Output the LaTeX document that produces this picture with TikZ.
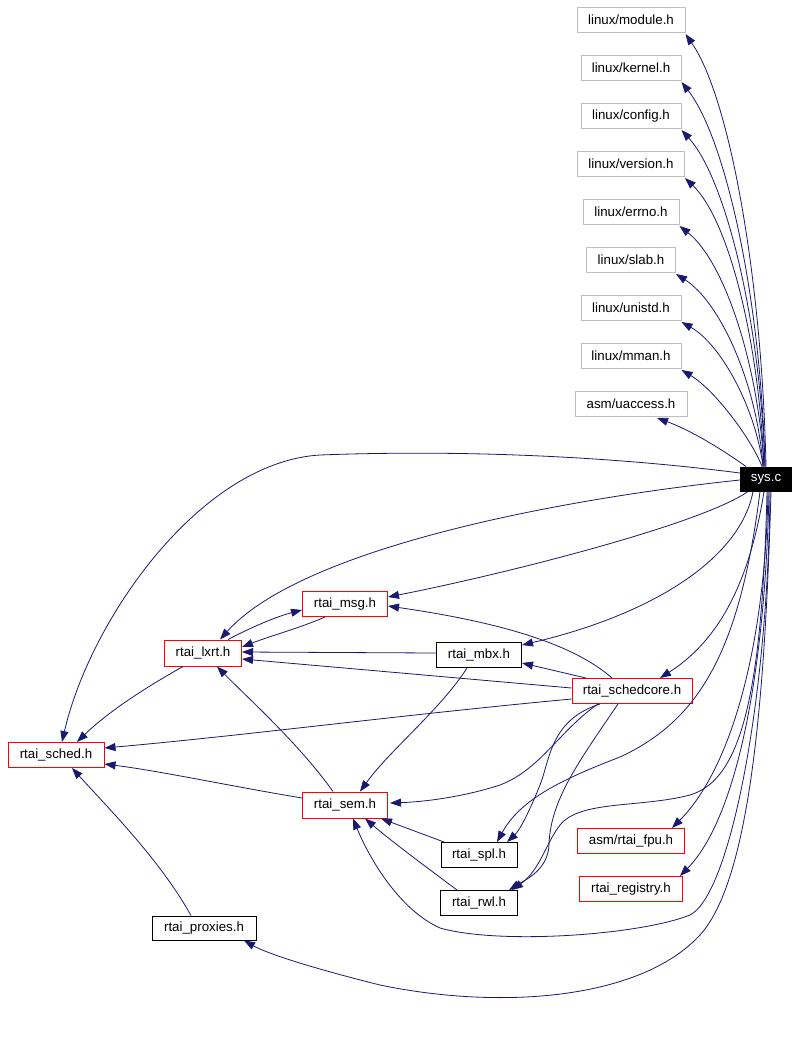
\documentclass[tikz,border=0pt]{standalone}
\usepackage{fontspec}
\setmainfont{Liberation Sans}
\usetikzlibrary{arrows.meta}
\definecolor{edgeblue}{HTML}{191970}
\definecolor{boxgray}{HTML}{BFBFBF}
\begin{document}
\begin{tikzpicture}[x=1pt,y=-1pt,
  box/.style={draw, line width=1pt, minimum height=25pt, inner sep=0pt, font=\fontsize{13.3}{15}\selectfont, anchor=center},
  gbox/.style={box, draw=boxgray},
  rbox/.style={box, draw=red},
  kbox/.style={box, draw=black},
  sbox/.style={box, draw=black, fill=black, text=white, minimum height=24pt},
  edge/.style={draw=edgeblue, line width=0.8pt, -{Triangle[length=11pt,width=8pt]}},
]
\useasboundingbox[fill=white] (0,0) rectangle (800,1055);

% nodes
\node[gbox, minimum width=108] (mod)  at (631,20)  {linux/module.h};
\node[gbox, minimum width=100] (ker)  at (631,68)  {linux/kernel.h};
\node[gbox, minimum width=100] (cfg)  at (631,116) {linux/config.h};
\node[gbox, minimum width=107] (ver)  at (631,164) {linux/version.h};
\node[gbox, minimum width=96]  (err)  at (631,212) {linux/errno.h};
\node[gbox, minimum width=89]  (slab) at (631,260) {linux/slab.h};
\node[gbox, minimum width=100] (uni)  at (631,308) {linux/unistd.h};
\node[gbox, minimum width=100] (mman) at (631,356) {linux/mman.h};
\node[gbox, minimum width=112] (uacc) at (631,404) {asm/uaccess.h};
\node[sbox, minimum width=51]  (sys)  at (766,479) {sys.c};
\node[rbox, minimum width=120] (sc)   at (632,691) {rtai\_schedcore.h};
\node[rbox, minimum width=85]  (msg)  at (345,604) {rtai\_msg.h};
\node[rbox, minimum width=77, minimum height=26] (lxrt) at (203,653) {rtai\_lxrt.h};
\node[rbox, minimum width=96]  (sched) at (56,755) {rtai\_sched.h};
\node[rbox, minimum width=85, minimum height=26] (sem) at (345,805) {rtai\_sem.h};
\node[kbox, minimum width=85]  (mbx)  at (479,655) {rtai\_mbx.h};
\node[kbox, minimum width=76]  (spl)  at (479,855) {rtai\_spl.h};
\node[kbox, minimum width=77]  (rwl)  at (479,903) {rtai\_rwl.h};
\node[rbox, minimum width=107] (fpu)  at (631,841) {asm/rtai\_fpu.h};
\node[rbox, minimum width=103] (reg)  at (631,889) {rtai\_registry.h};
\node[kbox, minimum width=104, minimum height=24] (prox) at (204,928) {rtai\_proxies.h};

% sys.c -> linux headers
\draw[edge] ([shift={(0,0)}]sys.north) .. controls (762,280) and (730,98) .. ([shift={(0,1)}]mod.south east);
\draw[edge] ([shift={(-1,0)}]sys.north) .. controls (761,300) and (726,139) .. ([shift={(0,1)}]ker.south east);
\draw[edge] ([shift={(-1,0)}]sys.north) .. controls (760,321) and (726,179) .. ([shift={(0,1)}]cfg.south east);
\draw[edge] ([shift={(-2,0)}]sys.north) .. controls (759,342) and (729,220) .. ([shift={(0,1)}]ver.south east);
\draw[edge] ([shift={(-2,0)}]sys.north) .. controls (758,363) and (724,261) .. ([shift={(0,1)}]err.south east);
\draw[edge] ([shift={(-3,0)}]sys.north) .. controls (757,383) and (720,302) .. ([shift={(0,1)}]slab.south east);
\draw[edge] ([shift={(-3,0)}]sys.north) .. controls (756,410) and (722,345) .. ([shift={(0,1)}]uni.south east);
\draw[edge] ([shift={(-4,0)}]sys.north) .. controls (752,440) and (715,390) .. ([shift={(0,1)}]mman.south east);
\draw[edge] ([shift={(-20,0)}]sys.north) .. controls (720,448) and (690,430) .. ([shift={(26,1)}]uacc.south);

% sys.c -> others
\draw[edge] ([shift={(0,-6)}]sys.west) .. controls (600,455) and (450,450) .. (320,455)
   .. controls (200,462) and (90,620) .. ([shift={(6,0)}]sched.north);
\draw[edge] ([shift={(0,1)}]sys.west) .. controls (550,500) and (300,550) .. ([shift={(17,0)}]lxrt.north);
\draw[edge] ([shift={(-18,0)}]sys.south) .. controls (700,525) and (500,575) .. ([shift={(0,-7)}]msg.east);
\draw[edge] ([shift={(-13,0)}]sys.south) .. controls (740,560) and (650,615) .. ([shift={(0,-10)}]mbx.east);
\draw[edge] ([shift={(-2,0)}]sys.south) .. controls (750,580) and (720,640) .. ([shift={(28,0)}]sc.north);
\draw[edge] ([shift={(2,0)}]sys.south) .. controls (765,650) and (730,770) .. ([shift={(41,0)}]fpu.north);
\draw[edge] ([shift={(3,0)}]sys.south) .. controls (765,680) and (735,820) .. ([shift={(49,0)}]reg.north);
\draw[edge] ([shift={(4,0)}]sys.south) .. controls (768,700) and (730,895) .. (690,915)
   .. controls (640,935) and (500,945) .. (440,928)
   .. controls (400,910) and (370,860) .. ([shift={(8,0)}]sem.south);
\draw[edge] ([shift={(5,0)}]sys.south) .. controls (765,700) and (750,880) .. (700,935)
   .. controls (640,1000) and (500,1010) .. (380,985)
   .. controls (320,970) and (270,955) .. ([shift={(40,0)}]prox.south);
\draw[edge] ([shift={(-6,0)}]sys.south) .. controls (740,650) and (700,720) .. (620,757)
   .. controls (560,780) and (520,800) .. ([shift={(18,0)}]spl.north);
\draw[edge] ([shift={(1,0)}]sys.south) .. controls (762,700) and (740,780) .. (690,795)
   .. controls (640,808) and (580,800) .. (560,825)
   .. controls (545,845) and (540,870) .. ([shift={(33,0)}]rwl.north);

% rtai_schedcore.h -> others
\draw[edge] ([shift={(-32,0)}]sc.south) .. controls (550,720) and (550,760) .. (540,785)
   .. controls (530,810) and (520,830) .. ([shift={(28,0)}]spl.north);
\draw[edge] ([shift={(-34,0)}]sc.south) .. controls (560,730) and (540,770) .. (500,785)
   .. controls (460,798) and (420,802) .. ([shift={(2,-2)}]sem.east);
\draw[edge] ([shift={(-14,0)}]sc.south) .. controls (580,760) and (550,800) .. (549,845)
   .. controls (548,870) and (525,880) .. ([shift={(30,0)}]rwl.north);
\draw[edge] ([shift={(-20,0)}]sc.north) .. controls (580,650) and (520,625) .. ([shift={(0,2)}]msg.east);
\draw[edge] ([shift={(-46,0)}]sc.north) -- ([shift={(0,8)}]mbx.east);
\draw[edge] ([shift={(0,-3)}]sc.west) -- ([shift={(0,6)}]lxrt.east);
\draw[edge] ([shift={(0,8)}]sc.west) .. controls (400,715) and (250,735) .. ([shift={(0,-7)}]sched.east);

% among rtai headers
\draw[edge] ([shift={(-20,0)}]msg.south) .. controls (300,628) and (270,636) .. ([shift={(0,-6)}]lxrt.east);
\draw[edge] ([shift={(25,0)}]lxrt.north) .. controls (250,628) and (275,617) .. ([shift={(0,6)}]msg.west);
\draw[edge] ([shift={(0,-2)}]mbx.west) -- ([shift={(0,-1)}]lxrt.east);
\draw[edge] ([shift={(-12,0)}]sem.north) .. controls (300,745) and (250,700) .. ([shift={(14,0)}]lxrt.south);
\draw[edge] ([shift={(-20,0)}]lxrt.south) .. controls (150,685) and (110,710) .. ([shift={(21,0)}]sched.north);
\draw[edge] ([shift={(0,-7)}]sem.west) .. controls (230,786) and (160,771) .. ([shift={(0,9)}]sched.east);
\draw[edge] ([shift={(-13,0)}]prox.north) .. controls (160,860) and (110,810) .. ([shift={(16,0)}]sched.south);
\draw[edge] ([shift={(-12,0)}]mbx.south) .. controls (440,710) and (390,750) .. ([shift={(15,0)}]sem.north);
\draw[edge] ([shift={(-35,0)}]spl.north) -- ([shift={(-7,0)}]sem.south east);
\draw[edge] ([shift={(-22,0)}]rwl.north) .. controls (430,870) and (390,840) .. ([shift={(20,0)}]sem.south);
\end{tikzpicture}
\end{document}
